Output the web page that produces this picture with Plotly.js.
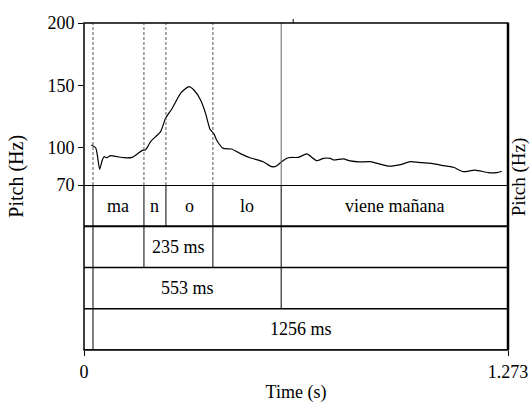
<!DOCTYPE html>
<html>
<head>
<meta charset="utf-8">
<script src="https://cdn.plot.ly/plotly-3.0.1.min.js"></script>
<style>html,body{margin:0;padding:0;background:#fff;}#chart{width:530px;height:406px;}</style>
</head>
<body>
<div id="chart"></div>
<script>
// Pitch contour (time in s, pitch in Hz)
const pitchTime = [0.022,0.035,0.040,0.047,0.055,0.060,0.068,0.080,0.100,0.120,0.145,0.160,0.175,0.185,0.200,0.215,0.230,0.245,0.265,0.290,0.315,0.330,0.350,0.365,0.378,0.390,0.398,0.418,0.443,0.468,0.498,0.538,0.563,0.578,0.593,0.613,0.644,0.669,0.699,0.719,0.739,0.749,0.779,0.799,0.827,0.859,0.914,0.954,0.979,1.014,1.044,1.074,1.109,1.139,1.174,1.214,1.239,1.254];
const pitchHz   = [102.1,99.9,94.0,82.6,90.0,92.7,91.9,93.5,92.7,91.9,92.2,94.9,97.8,98.3,104.8,108.8,112.8,123.5,131.6,143.6,148.9,146.2,138.2,127.5,115.0,111.0,106.1,99.4,98.9,95.4,91.9,88.7,84.7,85.2,88.7,91.9,92.2,94.9,89.5,91.4,91.4,90.1,90.9,89.3,88.5,88.7,85.2,86.6,88.7,87.9,87.4,85.8,84.2,80.7,82.0,79.9,79.9,81.0];

// Tier 1: syllables
const syllables = ["ma","n","o","lo","viene mañana"];
const sylStart  = [0.027,0.180,0.246,0.387,0.592];
const sylEnd    = [0.180,0.246,0.387,0.592,1.273];
// Tier 2-4: durations
const durLabels = ["235 ms","553 ms","1256 ms"];
const durStart  = [0.180,0.027,0.027];
const durEnd    = [0.387,0.592,1.273];
// Tier boundaries (for drawing the interval lines)
const tier2Bounds = [0.027,0.180,0.387,0.592];
const tier3Bounds = [0.027,0.592];
const tier4Bounds = [0.027];
// Boundary lines in the pitch panel
const dashedBounds = [0.027,0.180,0.246,0.387];
const solidBounds  = [0.592];
const xTicks = [0, 1.273];
const yTicks = [70,100,150,200];
const topMark = 0.628;

const FONT = "Liberation Serif, Times New Roman, serif";
const shapes = [];
const annotations = [];

// pitch panel boundaries
dashedBounds.forEach(t => shapes.push({type:'line', xref:'x', yref:'y', x0:t, x1:t, y0:70, y1:200, line:{color:'#555', width:1, dash:'3px,2px'}}));
solidBounds.forEach(t => shapes.push({type:'line', xref:'x', yref:'y', x0:t, x1:t, y0:70, y1:200, line:{color:'#666', width:1}}));

// horizontal tier lines (tiers occupy y2 0..4, tier1 = 3..4)
[0,1,2,3,4].forEach(v => shapes.push({type:'line', xref:'paper', yref:'y2', x0:0, x1:1, y0:v, y1:v, line:{color:'#000', width:(v===3||v===4)?2:1.5}}));

// vertical boundaries per tier
sylStart.forEach(t => shapes.push({type:'line', xref:'x', yref:'y2', x0:t, x1:t, y0:3, y1:4, line:{color:'#000', width:1}}));
tier2Bounds.forEach(t => shapes.push({type:'line', xref:'x', yref:'y2', x0:t, x1:t, y0:2, y1:3, line:{color:'#000', width:1}}));
tier3Bounds.forEach(t => shapes.push({type:'line', xref:'x', yref:'y2', x0:t, x1:t, y0:1, y1:2, line:{color:'#000', width:1}}));
tier4Bounds.forEach(t => shapes.push({type:'line', xref:'x', yref:'y2', x0:t, x1:t, y0:0, y1:1, line:{color:'#000', width:1}}));

// outer frame
shapes.push({type:'rect', xref:'paper', yref:'paper', x0:0, x1:1, y0:0, y1:1, line:{color:'#000', width:1.5}});
shapes.push({type:'line', xref:'paper', yref:'paper', x0:1, x1:1, y0:0, y1:1, line:{color:'#000', width:2.5}});
// small tick above top edge
shapes.push({type:'line', xref:'x', yref:'paper', x0:topMark, x1:topMark, y0:1, y1:1.012, line:{color:'#000', width:1}});

// labels
syllables.forEach((s,i) => annotations.push({x:(sylStart[i]+sylEnd[i])/2, y:3.5, xref:'x', yref:'y2', text:s, showarrow:false, font:{family:FONT, size:18, color:'#000'}}));
durLabels.forEach((s,i) => annotations.push({x:(durStart[i]+durEnd[i])/2, y:2.5-i, xref:'x', yref:'y2', text:s, showarrow:false, font:{family:FONT, size:18, color:'#000'}}));
annotations.push({x:-0.158, y:0.53, xref:'paper', yref:'paper', xanchor:'center', yanchor:'middle', text:'Pitch (Hz)', textangle:-90, showarrow:false, font:{family:FONT, size:20, color:'#000'}});
annotations.push({x:1.025, y:0.53, xref:'paper', yref:'paper', xanchor:'center', yanchor:'middle', text:'Pitch (Hz)', textangle:-90, showarrow:false, font:{family:FONT, size:19, color:'#000'}});

const trace = {x:pitchTime, y:pitchHz, xaxis:'x', yaxis:'y', mode:'lines', line:{color:'#000', width:1.2, shape:'spline', smoothing:0.6}, hoverinfo:'skip'};

const split = 0.5046;
const layout = {
  width:530, height:406,
  margin:{l:84, r:22, t:23, b:56, pad:0},
  paper_bgcolor:'#fff', plot_bgcolor:'#fff',
  showlegend:false,
  font:{family:FONT, size:18, color:'#000'},
  xaxis:{range:[0,1.273], anchor:'y2', tickvals:xTicks, ticktext:xTicks.map(String), ticks:'outside', ticklen:5, tickcolor:'#000', showgrid:false, zeroline:false, showline:false, tickfont:{family:FONT, size:18}, title:{text:'Time (s)', font:{family:FONT, size:18}, standoff:4}},
  yaxis:{domain:[split,1], range:[70,200], anchor:'x', tickvals:yTicks, ticks:'outside', ticklen:5, tickcolor:'#000', showgrid:false, zeroline:false, showline:false, tickfont:{family:FONT, size:18}},
  yaxis2:{domain:[0,split], range:[0,4], anchor:'x', visible:false, fixedrange:true},
  shapes:shapes,
  annotations:annotations
};
Plotly.newPlot('chart', [trace], layout, {staticPlot:true, displayModeBar:false});
</script>
</body>
</html>
